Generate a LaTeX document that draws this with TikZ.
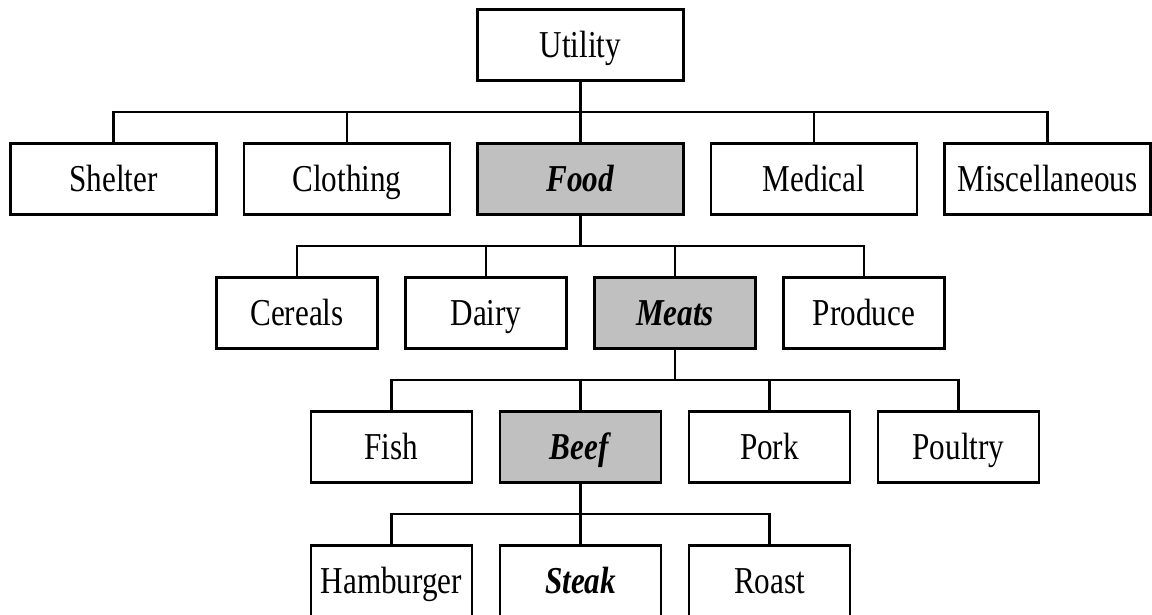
\documentclass[tikz,border=0pt]{standalone}
\usepackage{fontspec}
\setmainfont{Liberation Serif}[FakeStretch=0.82]
\usepackage{tikz}
\usetikzlibrary{positioning}
\definecolor{pickgray}{RGB}{192,192,192}
\tikzset{%
  % Specifications for style of nodes:
      base/.style = {rectangle, draw=black, line width=2.4pt,
                     inner sep=0pt, outer sep=0pt, minimum height=71pt,
                     text height=25pt, text depth=0pt,
                     font=\fontsize{38}{41}\selectfont},
     upper/.style = {base, minimum width=206pt},
     lower/.style = {base, minimum width=161pt},
    chosen/.style = {fill=pickgray},
    branch/.style = {line width=2.1pt},
}

\begin{document}
\begin{tikzpicture}[x=1pt, y=1pt]
  \useasboundingbox (0,0) rectangle (1152,-614);
  % Specification of nodes (position, etc.)
  \node (utility)   [upper] at (580.5,-45)                   {Utility};
  \node (food)      [upper, chosen, below=63pt of utility]   {\textbf{\textit{Food}}};
  \node (clothing)  [upper, left=27.5pt of food]             {Clothing};
  \node (shelter)   [upper, left=27.5pt of clothing]         {Shelter};
  \node (medical)   [upper, right=27.5pt of food]            {Medical};
  \node (misc)      [upper, right=27.5pt of medical]         {Miscellaneous};

  \node (meats)     [lower, chosen, below=63pt of food, xshift=94.5pt]
                                                             {\textbf{\textit{Meats}}};
  \node (dairy)     [lower, left=28pt of meats]              {Dairy};
  \node (cereals)   [lower, left=28pt of dairy]              {Cereals};
  \node (produce)   [lower, right=28pt of meats]             {Produce};

  \node (beef)      [lower, chosen, below=63pt of meats, xshift=-94.5pt]
                                                             {\textbf{\textit{Beef}}};
  \node (fish)      [lower, left=28pt of beef]               {Fish};
  \node (pork)      [lower, right=28pt of beef]              {Pork};
  \node (poultry)   [lower, right=28pt of pork]              {Poultry};

  \node (steak)     [lower, below=63pt of beef]              {\textbf{\textit{Steak}}};
  \node (hamburger) [lower, left=28pt of steak]              {Hamburger};
  \node (roast)     [lower, right=28pt of steak]             {Roast};

  % Specification of lines between nodes specified above
  \foreach \kid in {shelter,clothing,food,medical,misc}
    \draw[branch] (utility.south) -- ++(0,-31.5) -| (\kid.north);
  \foreach \kid in {cereals,dairy,meats,produce}
    \draw[branch] (food.south) -- ++(0,-31.5) -| (\kid.north);
  \foreach \kid in {fish,beef,pork,poultry}
    \draw[branch] (meats.south) -- ++(0,-31.5) -| (\kid.north);
  \foreach \kid in {hamburger,steak,roast}
    \draw[branch] (beef.south) -- ++(0,-31.5) -| (\kid.north);
\end{tikzpicture}
\end{document}
